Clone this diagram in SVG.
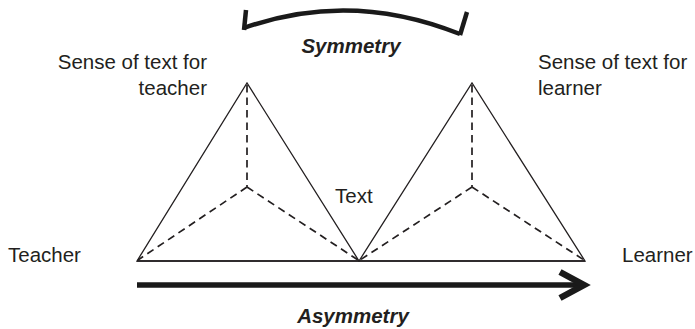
<svg xmlns="http://www.w3.org/2000/svg" width="695" height="329" viewBox="0 0 695 329">
<style>
text{font-family:"Liberation Sans",Arial,sans-serif;font-size:20.5px;fill:#231f20}
.bi{font-weight:bold;font-style:italic}
.solid{fill:none;stroke:#231f20;stroke-width:1.3;stroke-linejoin:miter}
.dash{fill:none;stroke:#231f20;stroke-width:1.7;stroke-dasharray:7.5 5}
.thick{fill:none;stroke:#1a1a1a;stroke-linecap:butt;stroke-linejoin:miter}
</style>
<rect width="695" height="329" fill="#fff"/>
<g id="teacher-triangle">
<polygon class="solid" points="137,261 247,83 359,261"/>
<path class="dash" d="M247 85 V187 M247 187 L138 260 M247 187 L358 260"/>
</g>
<g id="learner-triangle">
<polygon class="solid" points="359,261 472,83 585,261"/>
<path class="dash" d="M472 85 V187 M472 187 L360 260 M472 187 L584 260"/>
</g>
<g id="base">
<line class="solid" x1="137" y1="261" x2="585" y2="261" stroke-width="1.6"/>
</g>
<g id="connectors">
<g id="symmetry-arc">
<path class="thick" stroke-width="4.5" d="M244 28 Q350 -10 460 34"/>
<path class="thick" stroke-width="4.5" d="M246 10 L244 30"/>
<path class="thick" stroke-width="4.5" d="M467 12 L460 35"/>
</g>
<g id="asymmetry-arrow">
<line class="thick" stroke-width="5.5" x1="137" y1="285" x2="582" y2="285"/>
<path class="thick" stroke-width="6.5" d="M560 272 L584 285 L560 298"/>
</g>
</g>
<g id="label-teacher-sense"><text x="207" y="69" text-anchor="end">Sense of text for</text><text x="207" y="95" text-anchor="end">teacher</text></g>
<g id="label-learner-sense"><text x="538" y="69">Sense of text for</text><text x="538" y="95">learner</text></g>
<g id="label-teacher"><text x="8" y="262">Teacher</text></g>
<g id="label-learner"><text x="622" y="262">Learner</text></g>
<g id="label-text"><text x="335" y="203">Text</text></g>
<g id="label-symmetry"><text class="bi" x="351" y="53" text-anchor="middle">Symmetry</text></g>
<g id="label-asymmetry"><text class="bi" x="353" y="323" text-anchor="middle">Asymmetry</text></g>
</svg>
